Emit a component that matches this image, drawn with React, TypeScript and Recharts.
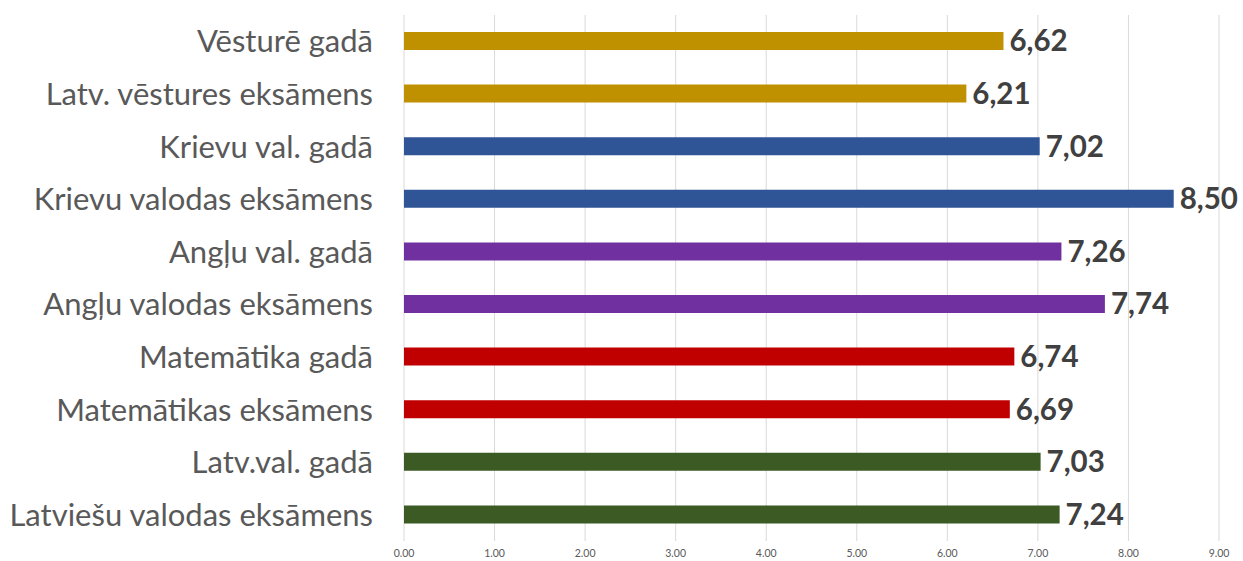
import { BarChart, Bar, XAxis, YAxis, CartesianGrid, Cell, LabelList } from "recharts";

const categories = [
  "Vēsturē gadā",
  "Latv. vēstures eksāmens",
  "Krievu val. gadā",
  "Krievu valodas eksāmens",
  "Angļu val. gadā",
  "Angļu valodas eksāmens",
  "Matemātika gadā",
  "Matemātikas eksāmens",
  "Latv.val. gadā",
  "Latviešu valodas eksāmens",
];
const scores = [6.62, 6.21, 7.02, 8.5, 7.26, 7.74, 6.74, 6.69, 7.03, 7.24];
const barColors = [
  "#BF9000", "#BF9000",
  "#2F5597", "#2F5597",
  "#7030A0", "#7030A0",
  "#C00000", "#C00000",
  "#3B5A24", "#3B5A24",
];
const xTicks = [0, 1, 2, 3, 4, 5, 6, 7, 8, 9];

const data = categories.map((name, i) => ({ name, score: scores[i] }));

export default function App() {
  return (
    <div>
      <style>{`body{margin:0}`}</style>
      <BarChart
        width={1243}
        height={561}
        data={data}
        layout="vertical"
        margin={{ top: 15, right: 24, left: 0, bottom: 0 }}
        barCategoryGap={0}
      >
        <CartesianGrid horizontal={false} stroke="#d9d9d9" />
        <XAxis
          type="number"
          domain={[0, 9]}
          ticks={xTicks}
          tickFormatter={(v: number) => v.toFixed(2)}
          axisLine={false}
          tickLine={false}
          tickSize={0}
          tickMargin={9}
          height={20}
          tick={{ fontSize: 10.5, fill: "#595959", fontFamily: "Lato" }}
        />
        <YAxis
          type="category"
          dataKey="name"
          width={404}
          axisLine={false}
          tickLine={false}
          tickSize={0}
          tickMargin={31}
          interval={0}
          tick={{ fontSize: 31, fill: "#595959", fontFamily: "Lato" }}
        />
        <Bar dataKey="score" barSize={18} isAnimationActive={false}>
          {data.map((d, i) => (
            <Cell key={d.name} fill={barColors[i]} />
          ))}
          <LabelList
            dataKey="score"
            position="right"
            offset={6}
            formatter={(v: number) => v.toFixed(2).replace(".", ",")}
            style={{ fontSize: 29.5, fontWeight: 700, fill: "#404040", fontFamily: "Lato" }}
          />
        </Bar>
      </BarChart>
    </div>
  );
}
